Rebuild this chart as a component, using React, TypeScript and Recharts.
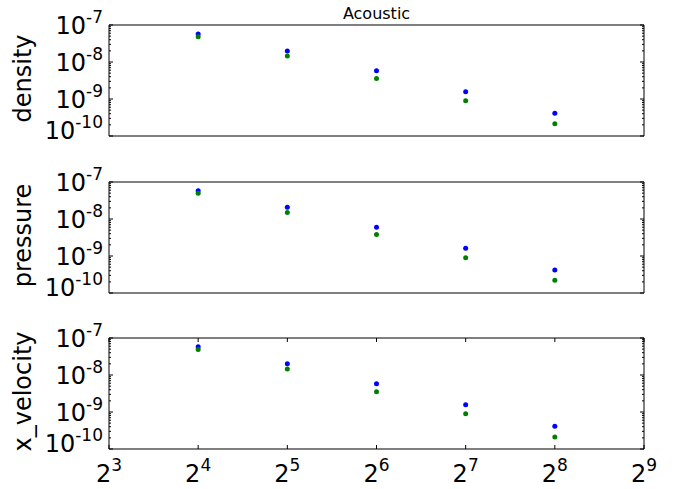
import React from 'react';
import { ScatterChart, Scatter, XAxis, YAxis, ReferenceArea, Label } from 'recharts';

const xValues = [16, 32, 64, 128, 256];
const xTicks = [8, 16, 32, 64, 128, 256, 512];
const yDomain = [1e-10, 1e-7];
const yDecades = [-10, -9, -8, -7];
const yMinorMultipliers = [2, 3, 4, 5, 6, 7, 8, 9];

const densityBlue = [5.7e-8, 1.98e-8, 5.8e-9, 1.58e-9, 4.1e-10];
const densityGreen = [4.8e-8, 1.45e-8, 3.6e-9, 8.9e-10, 2.15e-10];
const pressureBlue = [5.8e-8, 2.07e-8, 5.96e-9, 1.62e-9, 4.2e-10];
const pressureGreen = [5.0e-8, 1.51e-8, 3.8e-9, 8.9e-10, 2.2e-10];
const velocityBlue = [5.8e-8, 2.02e-8, 5.8e-9, 1.58e-9, 4.1e-10];
const velocityGreen = [4.9e-8, 1.45e-8, 3.55e-9, 8.9e-10, 2.1e-10];

const panelLabels = ['density', 'pressure', 'x_velocity'];
const title = 'Acoustic';

const FONT = '"DejaVu Sans", sans-serif';
const BLUE = '#0000ff';
const GREEN = '#008000';

const yAllTicks: number[] = [];
yDecades.forEach((e) => {
  yAllTicks.push(Math.pow(10, e));
  if (e < -7) yMinorMultipliers.forEach((m) => yAllTicks.push(m * Math.pow(10, e)));
});

const isMajor = (v: number) => {
  const e = Math.round(Math.log10(v));
  return Math.abs(v - Math.pow(10, e)) < v * 1e-6;
};

const LeftTick = (props: any) => {
  const { x, y, payload } = props;
  const v = payload.value;
  const major = isMajor(v);
  const e = Math.round(Math.log10(v));
  const dyBase = e === yDecades[0] ? 3 : 9;
  return (
    <g>
      <line x1={x} x2={x + (major ? 4 : 2)} y1={y} y2={y} stroke="#000" strokeWidth={1} />
      {major && (
        <text x={x - 6} y={y + dyBase} textAnchor="end" fontFamily={FONT} fontSize={24} fill="#000">
          10
          <tspan dy={-11} fontSize={17}>{String(e)}</tspan>
        </text>
      )}
    </g>
  );
};

const RightTick = (props: any) => {
  const { x, y, payload } = props;
  const major = isMajor(payload.value);
  return <line x1={x} x2={x - (major ? 4 : 2)} y1={y} y2={y} stroke="#000" strokeWidth={1} />;
};

const BottomTick = (props: any) => {
  const { x, y, payload } = props;
  const e = Math.round(Math.log2(payload.value));
  return (
    <g>
      <line x1={x} x2={x} y1={y} y2={y - 4} stroke="#000" strokeWidth={1} />
      <text x={x} y={y + 33} textAnchor="middle" fontFamily={FONT} fontSize={24} fill="#000">
        2
        <tspan dy={-11} fontSize={17}>{String(e)}</tspan>
      </text>
    </g>
  );
};

const TopTick = (props: any) => {
  const { x, y } = props;
  return <line x1={x} x2={x} y1={y} y2={y + 4} stroke="#000" strokeWidth={1} />;
};

const Dot = (color: string) => (props: any) => (
  <circle cx={props.cx} cy={props.cy} r={2.5} fill={color} />
);

const toData = (vals: number[]) => xValues.map((x, i) => ({ x, y: vals[i] }));

const YLabel = (text: string) => (props: any) => {
  const vb = props.viewBox || { x: 0, y: 0, width: 0, height: 0 };
  const cx = vb.x + 31;
  const cy = vb.y + vb.height / 2 - 2;
  return (
    <text
      x={cx}
      y={cy}
      transform={`rotate(-90 ${cx} ${cy})`}
      textAnchor="middle"
      fontFamily={FONT}
      fontSize={24}
      fill="#000"
    >
      {text}
    </text>
  );
};

type PanelProps = {
  top: number;
  height: number;
  margin: any;
  label: string;
  blue: number[];
  green: number[];
  bottomAxis?: boolean;
  showTitle?: boolean;
};

const Panel = ({ top, height, margin, label, blue, green, bottomAxis, showTitle }: PanelProps) => (
  <div style={{ position: 'absolute', left: 0, top }}>
    <ScatterChart width={680} height={height} margin={margin}>
      <XAxis
        dataKey="x"
        type="number"
        scale="log"
        domain={[8, 512]}
        ticks={xTicks}
        allowDataOverflow
        hide={!bottomAxis}
        orientation="bottom"
        height={40}
        tickSize={0}
        tickMargin={0}
        tickLine={false}
        axisLine={false}
        tick={<BottomTick />}
        interval={0}
      />
      {bottomAxis && (
        <XAxis
          xAxisId="top"
          dataKey="x"
          type="number"
          scale="log"
          domain={[8, 512]}
          ticks={xTicks}
          allowDataOverflow
          orientation="top"
          height={10}
          tickSize={0}
          tickMargin={0}
          tickLine={false}
          axisLine={false}
          tick={<TopTick />}
          interval={0}
        />
      )}
      <YAxis
        dataKey="y"
        type="number"
        scale="log"
        domain={yDomain}
        ticks={yAllTicks}
        allowDataOverflow
        width={109}
        tickSize={0}
        tickMargin={0}
        tickLine={false}
        axisLine={false}
        tick={<LeftTick />}
        interval={0}
      >
        <Label content={YLabel(label)} />
      </YAxis>
      <YAxis
        yAxisId="right"
        orientation="right"
        dataKey="y"
        type="number"
        scale="log"
        domain={yDomain}
        ticks={yAllTicks}
        allowDataOverflow
        width={36}
        tickSize={0}
        tickMargin={0}
        tickLine={false}
        axisLine={false}
        tick={<RightTick />}
        interval={0}
      />
      <ReferenceArea
        x1={8}
        x2={512}
        y1={1e-10}
        y2={1e-7}
        fill="none"
        stroke="#000"
        strokeWidth={1}
        ifOverflow="visible"
      >
        {showTitle && (
          <Label position="top" offset={6} value={title} fontFamily={FONT} fontSize={16} fill="#000" />
        )}
      </ReferenceArea>
      <Scatter data={toData(blue)} fill={BLUE} shape={Dot(BLUE)} isAnimationActive={false} />
      <Scatter data={toData(green)} fill={GREEN} shape={Dot(GREEN)} isAnimationActive={false} />
      <Scatter yAxisId="right" data={toData(blue)} shape={() => null} isAnimationActive={false} />
    </ScatterChart>
  </div>
);

export default function App() {
  return (
    <div style={{ position: 'absolute', left: 0, top: 0, width: 680, height: 489, background: '#fff' }}>
      <Panel
        top={0}
        height={160}
        margin={{ top: 25, right: 0, bottom: 24, left: 0 }}
        label={panelLabels[0]}
        blue={densityBlue}
        green={densityGreen}
        showTitle
      />
      <Panel
        top={157}
        height={160}
        margin={{ top: 25, right: 0, bottom: 24, left: 0 }}
        label={panelLabels[1]}
        blue={pressureBlue}
        green={pressureGreen}
      />
      <Panel
        top={313}
        height={176}
        margin={{ top: 15, right: 0, bottom: 0, left: 0 }}
        label={panelLabels[2]}
        blue={velocityBlue}
        green={velocityGreen}
        bottomAxis
      />
    </div>
  );
}
